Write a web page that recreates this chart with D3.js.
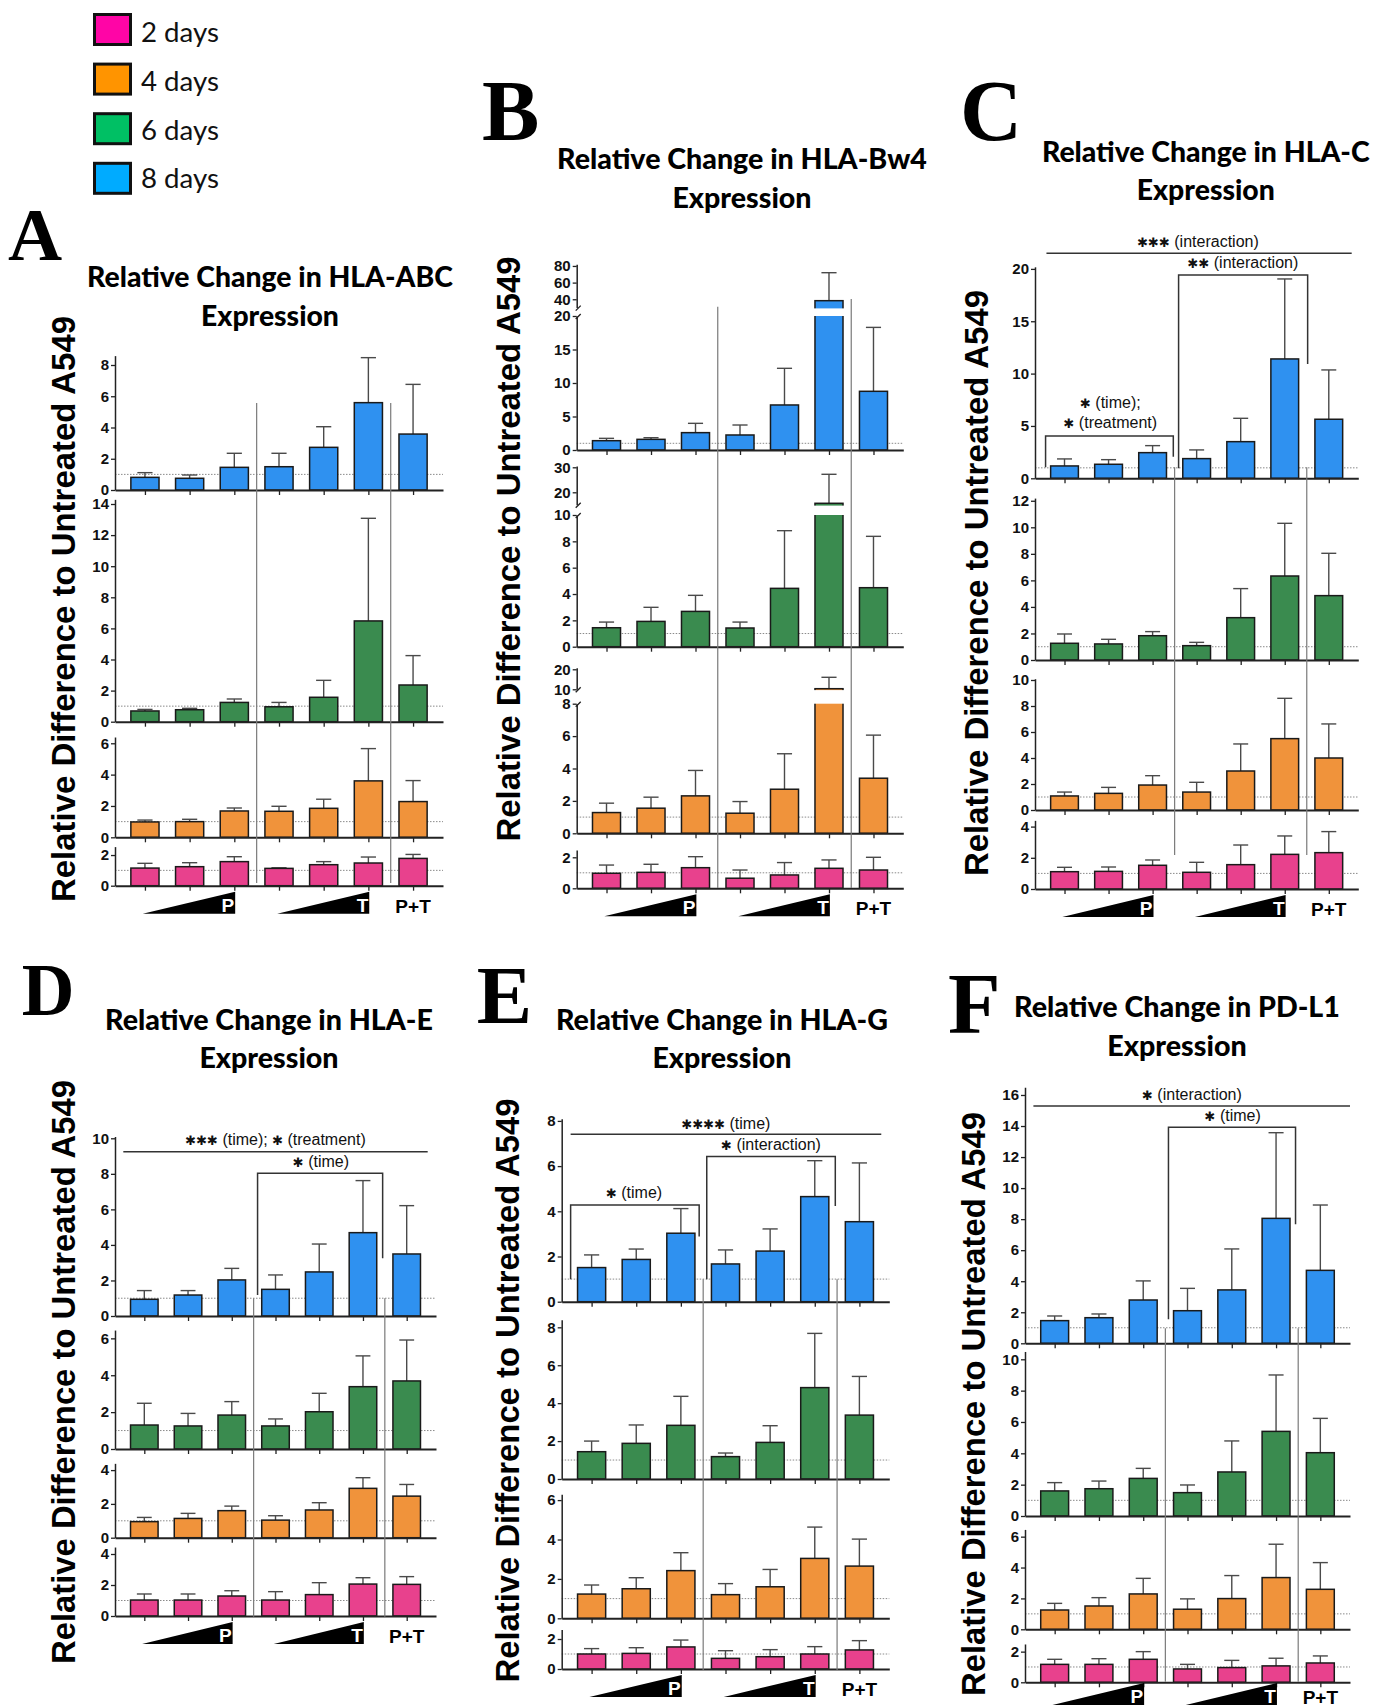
<!DOCTYPE html>
<html>
<head>
<meta charset="utf-8">
<script src="https://cdn.jsdelivr.net/npm/d3@7"></script>
<style>
  body { margin: 0; background: #fff; }
</style>
</head>
<body>
<svg id="fig"></svg>
<script>
// x categories: rising P dose, rising T dose, P+T combination
const conditions = ["P1", "P2", "P3", "T1", "T2", "T3", "P+T"];
const dayLabels = ["2 days", "4 days", "6 days", "8 days"];
const legendColors = ["#ff05a6", "#ff9400", "#00c064", "#00abff"];
const barColors = { 2: "#e8418d", 4: "#f0933b", 6: "#3a8b4f", 8: "#2f91f0" };
const yLabel = "Relative Difference to Untreated A549";

// A - HLA-ABC (mean, SD)
const abcMean8 = [0.81, 0.75, 1.45, 1.49, 2.73, 5.59, 3.58];
const abcSd8   = [0.30, 0.21, 0.90, 0.86, 1.32, 2.88, 3.18];
const abcMean6 = [0.69, 0.77, 1.24, 0.96, 1.57, 6.48, 2.36];
const abcSd6   = [0.10, 0.09, 0.22, 0.28, 1.09, 6.60, 1.89];
const abcMean4 = [0.98, 1.00, 1.68, 1.66, 1.85, 3.60, 2.28];
const abcSd4   = [0.12, 0.15, 0.19, 0.32, 0.58, 2.06, 1.34];
const abcMean2 = [1.15, 1.24, 1.57, 1.13, 1.37, 1.48, 1.78];
const abcSd2   = [0.31, 0.26, 0.32, 0.04, 0.20, 0.39, 0.26];
const abcTicks = [[0, 2, 4, 6, 8], [0, 2, 4, 6, 8, 10, 12, 14], [0, 2, 4, 6], [0, 2]];

// B - HLA-Bw4
const bw4Mean8 = [1.39, 1.59, 2.59, 2.24, 6.72, 38.3, 8.76];
const bw4Sd8   = [0.35, 0.25, 1.39, 1.49, 5.47, 33.6, 9.54];
const bw4Mean6 = [1.44, 1.92, 2.68, 1.42, 4.43, 15.6, 4.48];
const bw4Sd6   = [0.43, 1.07, 1.22, 0.45, 4.38, 11.6, 3.90];
const bw4Mean4 = [1.28, 1.55, 2.31, 1.24, 2.72, 10.3, 3.40];
const bw4Sd4   = [0.58, 0.68, 1.57, 0.72, 2.19, 5.70, 2.66];
const bw4Mean2 = [0.97, 1.03, 1.33, 0.65, 0.86, 1.29, 1.18];
const bw4Sd2   = [0.53, 0.52, 0.71, 0.53, 0.80, 0.54, 0.82];
const bw4Ticks = [[0, 5, 10, 15, 20], [0, 2, 4, 6, 8, 10], [0, 2, 4, 6, 8], [0, 2]];
const bw4TicksUpper = [[40, 60, 80], [20, 30], [10, 20]];

// C - HLA-C
const cMean8 = [1.18, 1.34, 2.45, 1.88, 3.50, 11.40, 5.64];
const cSd8   = [0.67, 0.44, 0.67, 0.83, 2.23, 7.64, 4.71];
const cMean6 = [1.26, 1.21, 1.83, 1.08, 3.19, 6.33, 4.85];
const cSd6   = [0.70, 0.35, 0.31, 0.25, 2.19, 3.97, 3.19];
const cMean4 = [1.08, 1.28, 1.92, 1.38, 3.00, 5.49, 4.00];
const cSd4   = [0.30, 0.46, 0.72, 0.75, 2.08, 3.10, 2.62];
const cMean2 = [1.11, 1.13, 1.52, 1.07, 1.56, 2.22, 2.33];
const cSd2   = [0.28, 0.28, 0.34, 0.64, 1.26, 1.18, 1.35];
const cTicks = [[0, 5, 10, 15, 20], [0, 2, 4, 6, 8, 10, 12], [0, 2, 4, 6, 8, 10], [0, 2, 4]];

// D - HLA-E
const eMean8 = [0.94, 1.18, 2.03, 1.50, 2.48, 4.69, 3.49];
const eSd8   = [0.49, 0.25, 0.65, 0.81, 1.57, 2.93, 2.72];
const eMean6 = [1.30, 1.25, 1.84, 1.25, 2.02, 3.38, 3.69];
const eSd6   = [1.18, 0.68, 0.73, 0.38, 1.00, 1.67, 2.22];
const eMean4 = [0.95, 1.14, 1.60, 1.04, 1.64, 2.92, 2.46];
const eSd4   = [0.25, 0.30, 0.27, 0.26, 0.43, 0.63, 0.69];
const eMean2 = [1.03, 1.03, 1.29, 1.03, 1.38, 2.06, 2.04];
const eSd2   = [0.39, 0.39, 0.34, 0.54, 0.77, 0.41, 0.50];
const eTicks = [[0, 2, 4, 6, 8, 10], [0, 2, 4, 6], [0, 2, 4], [0, 2, 4]];

// E - HLA-G
const gMean8 = [1.51, 1.87, 3.03, 1.67, 2.24, 4.65, 3.54];
const gSd8   = [0.56, 0.46, 1.09, 0.62, 0.98, 1.59, 2.60];
const gMean6 = [1.44, 1.88, 2.83, 1.18, 1.93, 4.82, 3.37];
const gSd6   = [0.56, 0.97, 1.53, 0.19, 0.88, 2.86, 2.04];
const gMean4 = [1.23, 1.50, 2.42, 1.20, 1.60, 3.04, 2.65];
const gSd4   = [0.46, 0.56, 0.91, 0.56, 0.88, 1.59, 1.37];
const gMean2 = [1.00, 1.04, 1.47, 0.71, 0.82, 1.00, 1.27];
const gSd2   = [0.36, 0.38, 0.46, 0.51, 0.47, 0.49, 0.62];
const gTicks = [[0, 2, 4, 6, 8], [0, 2, 4, 6, 8], [0, 2, 4, 6], [0, 2]];

// F - PD-L1
const pdMean8 = [1.46, 1.65, 2.79, 2.10, 3.44, 8.05, 4.70];
const pdSd8   = [0.30, 0.24, 1.23, 1.44, 2.64, 5.52, 4.21];
const pdMean6 = [1.60, 1.74, 2.40, 1.49, 2.81, 5.40, 4.04];
const pdSd6   = [0.53, 0.49, 0.64, 0.49, 1.98, 3.60, 2.19];
const pdMean4 = [1.25, 1.51, 2.29, 1.30, 1.99, 3.35, 2.59];
const pdSd4   = [0.43, 0.54, 1.01, 0.67, 1.49, 2.16, 1.73];
const pdMean2 = [1.17, 1.17, 1.50, 0.87, 0.96, 1.07, 1.26];
const pdSd2   = [0.33, 0.37, 0.50, 0.30, 0.47, 0.50, 0.46];
const pdTicks = [[0, 2, 4, 6, 8, 10, 12, 14, 16], [0, 2, 4, 6, 8, 10], [0, 2, 4, 6], [0, 2]];

const W = 1388, H = 1708;
const SANS = "'Liberation Sans', Arial, sans-serif";
const TITLE = "Lato, 'Open Sans', sans-serif";
const SERIF = "'Liberation Serif', 'Times New Roman', serif";

// layout for each panel; rows run top to bottom as 8, 6, 4, 2 days
function rows(means, sds, ticks, geo) {
    const days = [8, 6, 4, 2];
    return geo.map((r, k) => Object.assign({ day: days[k], mean: means[k], sd: sds[k], ticks: ticks[k] }, r));
}

const panels = [
    {
        id: "A", letter: [8, 260, 75], title: "Relative Change in HLA-ABC", tx: 270, ty: [287, 326], tw: 366,
        yl: [75, 609, 586], xl: 115, xr: 443, sepTop: [403, 403], sepBot: 883,
        rows: rows([abcMean8, abcMean6, abcMean4, abcMean2], [abcSd8, abcSd6, abcSd4, abcSd2], abcTicks, [
            { y0: 490, ppu: 15.625, max: 8.6 }, { y0: 721.7, ppu: 15.55, max: 14.3 },
            { y0: 837.3, ppu: 15.67, max: 6.4 }, { y0: 885.7, ppu: 15.33, max: 2.55 }]),
        notes: []
    },
    {
        id: "B", letter: [482, 140, 86], title: "Relative Change in HLA-Bw4", tx: 742, ty: [169.3, 208.3], tw: 370,
        yl: [519.5, 549, 585], xl: 576.7, xr: 903.3, sepTop: [306.7, 299], sepBot: 888,
        rows: rows([bw4Mean8, bw4Mean6, bw4Mean4, bw4Mean2], [bw4Sd8, bw4Sd6, bw4Sd4, bw4Sd2], bw4Ticks, [
            { y0: 450, ppu: 6.7, max: 20, up: { lo: 30, hi: 82, y: 307.6, ppu: 0.833, ticks: bw4TicksUpper[0] } },
            { y0: 646.7, ppu: 13.17, max: 10, up: { lo: 15, hi: 30.5, y: 504.8, ppu: 2.5, ticks: bw4TicksUpper[1] } },
            { y0: 833.3, ppu: 16.2, max: 8, up: { lo: 10, hi: 20.8, y: 689.3, ppu: 2, ticks: bw4TicksUpper[2] } },
            { y0: 888.3, ppu: 15.5, max: 2.47 }]),
        notes: []
    },
    {
        id: "C", letter: [960, 140, 86], title: "Relative Change in HLA-C", tx: 1205.8, ty: [161.7, 200], tw: 328,
        yl: [988, 583, 586], xl: 1035, xr: 1358.3, sepTop: [467.3, 467.3], sepBot: 855,
        rows: rows([cMean8, cMean6, cMean4, cMean2], [cSd8, cSd6, cSd4, cSd2], cTicks, [
            { y0: 478.3, ppu: 10.47, max: 20.2 }, { y0: 660, ppu: 13.27, max: 12.2 },
            { y0: 810, ppu: 13, max: 10.1 }, { y0: 889, ppu: 15.6, max: 4.4 }]),
        notes: [
            { kind: "line", x1: -0.41, x2: 6.52, y: 21.5 },
            { kind: "text", x: 3.03, y: 22.1, text: "*** (interaction)" },
            { kind: "bracket", x1: 2.59, x2: 5.52, y: 19.42, l1: 0.96, l2: 10.92 },
            { kind: "text", x: 4.05, y: 20.06, text: "** (interaction)" },
            { kind: "bracket", x1: -0.43, x2: 2.47, y: 4.04, l1: 1.05, l2: 2.06 },
            { kind: "text", x: 1.04, y: 6.69, text: "* (time);" },
            { kind: "text", x: 1.04, y: 4.78, text: "* (treatment)" }
        ]
    },
    {
        id: "D", letter: [21.7, 1015, 73], title: "Relative Change in HLA-E", tx: 269, ty: [1030, 1068.3], tw: 328,
        yl: [75, 1372, 584], xl: 115, xr: 436, sepTop: [1298.3, 1298.3], sepBot: 1616.7,
        rows: rows([eMean8, eMean6, eMean4, eMean2], [eSd8, eSd6, eSd4, eSd2], eTicks, [
            { y0: 1316, ppu: 17.77, max: 10.1 }, { y0: 1449, ppu: 18.44, max: 6.45 },
            { y0: 1537.7, ppu: 16.9, max: 4.4 }, { y0: 1616, ppu: 15.5, max: 4.45 }]),
        notes: [
            { kind: "line", x1: -0.48, x2: 6.48, y: 9.25 },
            { kind: "text", x: 3.0, y: 9.62, text: "*** (time); * (treatment)" },
            { kind: "bracket", x1: 2.59, x2: 5.45, y: 8.03, l1: 1.18, l2: 3.25 },
            { kind: "text", x: 4.04, y: 8.4, text: "* (time)" }
        ]
    },
    {
        id: "E", letter: [476.7, 1023, 83], title: "Relative Change in HLA-G", tx: 722, ty: [1030, 1068.3], tw: 332,
        yl: [519, 1390.5, 584], xl: 561.7, xr: 889.3, sepTop: [1279.3, 1279.3], sepBot: 1670,
        rows: rows([gMean8, gMean6, gMean4, gMean2], [gSd8, gSd6, gSd4, gSd2], gTicks, [
            { y0: 1301.7, ppu: 22.6, max: 8.1 }, { y0: 1479, ppu: 18.96, max: 8.4 },
            { y0: 1618.3, ppu: 19.7, max: 6.3 }, { y0: 1669, ppu: 15, max: 2.64 }]),
        notes: [
            { kind: "line", x1: -0.47, x2: 6.49, y: 7.41 },
            { kind: "text", x: 3.01, y: 7.63, text: "**** (time)" },
            { kind: "bracket", x1: 2.58, x2: 5.46, y: 6.42, l1: 0.99, l2: 4.23 },
            { kind: "text", x: 4.02, y: 6.71, text: "* (interaction)" },
            { kind: "bracket", x1: -0.47, x2: 2.41, y: 4.28, l1: 0.99, l2: 2.88 },
            { kind: "text", x: 0.95, y: 4.58, text: "* (time)" }
        ]
    },
    {
        id: "F", letter: [948, 1033, 86], title: "Relative Change in PD-L1", tx: 1177, ty: [1016.7, 1056], tw: 326,
        yl: [985, 1404, 584], xl: 1025, xr: 1350, sepTop: [1328.3, 1328.3], sepBot: 1681.7,
        rows: rows([pdMean8, pdMean6, pdMean4, pdMean2], [pdSd8, pdSd6, pdSd4, pdSd2], pdTicks, [
            { y0: 1343.3, ppu: 15.52, max: 16.5 }, { y0: 1516, ppu: 15.67, max: 10.5 },
            { y0: 1629.3, ppu: 15.44, max: 6.47 }, { y0: 1682.3, ppu: 15.33, max: 2.5 }]),
        notes: [
            { kind: "line", x1: -0.48, x2: 6.67, y: 15.29 },
            { kind: "text", x: 3.1, y: 15.68, text: "* (interaction)" },
            { kind: "bracket", x1: 2.57, x2: 5.44, y: 13.92, l1: 1.55, l2: 7.67 },
            { kind: "text", x: 4.02, y: 14.34, text: "* (time)" }
        ]
    }
];

const svg = d3.select("#fig").attr("width", W).attr("height", H);
svg.append("rect").attr("width", W).attr("height", H).attr("fill", "#fff");

// scale font size so the text spans the wanted width
function fitText(sel, width) {
    const fs = parseFloat(sel.attr("font-size"));
    const nf = fs * width / sel.node().getComputedTextLength();
    sel.attr("font-size", nf);
    return nf;
}

function styleAxis(a, width) {
    a.attr("font-family", SANS).attr("font-size", 15).attr("font-weight", "bold");
    a.selectAll("path.domain").attr("stroke", "#222").attr("stroke-width", width);
    a.selectAll(".tick line").attr("stroke", "#222").attr("stroke-width", 1.3);
    a.selectAll(".tick text").attr("fill", "#111");
}

// legend
const legend = svg.append("g");
dayLabels.forEach((d, i) => {
    legend.append("rect")
        .attr("x", 94.5).attr("y", 14.5 + i * 49.6).attr("width", 36).attr("height", 30)
        .attr("fill", legendColors[i]).attr("stroke", "#111").attr("stroke-width", 3);
    const t = legend.append("text")
        .attr("x", 141).attr("y", 41.7 + i * 48.9)
        .attr("font-family", TITLE).attr("font-size", 28).attr("fill", "#111")
        .text(d);
    fitText(t, 78);
});

panels.forEach(drawPanel);

function drawPanel(p) {
    const g = svg.append("g");

    g.append("text")
        .attr("x", p.letter[0]).attr("y", p.letter[1])
        .attr("font-family", SERIF).attr("font-weight", "bold").attr("font-size", p.letter[2])
        .text(p.id);

    const t1 = g.append("text")
        .attr("x", p.tx).attr("y", p.ty[0]).attr("text-anchor", "middle")
        .attr("font-family", TITLE).attr("font-weight", 900).attr("font-size", 28)
        .text(p.title);
    const fs = fitText(t1, p.tw);
    g.append("text")
        .attr("x", p.tx).attr("y", p.ty[1]).attr("text-anchor", "middle")
        .attr("font-family", TITLE).attr("font-weight", 900).attr("font-size", fs)
        .text("Expression");

    g.append("text")
        .attr("transform", `translate(${p.yl[0]},${p.yl[1]}) rotate(-90)`)
        .attr("text-anchor", "middle")
        .attr("font-family", SANS).attr("font-weight", "bold").attr("font-size", 33)
        .attr("textLength", p.yl[2]).attr("lengthAdjust", "spacingAndGlyphs")
        .text(yLabel);

    const x = d3.scalePoint().domain(conditions).range([p.xl, p.xr]).padding(0.67);
    const step = x.step();
    const bw = step * 0.63;
    const xAt = i => x(conditions[0]) + i * step;

    p.rows.forEach(r => drawRow(g, p, r, x, bw, step));

    // separators between P, T and P+T groups
    [2.5, 5.5].forEach((i, k) => {
        g.append("line")
            .attr("x1", xAt(i)).attr("x2", xAt(i))
            .attr("y1", p.sepTop[k]).attr("y2", p.sepBot)
            .attr("stroke", "#7a7a7a").attr("stroke-width", 1.2);
    });

    // dose ramps under the x axis (kept inside the page at the bottom)
    const last = p.rows[p.rows.length - 1];
    const bot = Math.min(last.y0 + 28, H - 3), top = bot - 22;
    [[-0.05, 2.02, "P"], [2.96, 5.02, "T"]].forEach(([a, b, lab]) => {
        g.append("path")
            .attr("d", `M${xAt(a)},${bot}L${xAt(b)},${bot}L${xAt(b)},${top}Z`)
            .attr("fill", "#000");
        g.append("text")
            .attr("x", xAt(b) - 1).attr("y", bot - 2).attr("text-anchor", "end")
            .attr("font-family", SANS).attr("font-weight", "bold").attr("font-size", 19)
            .attr("fill", "#fff").text(lab);
    });
    g.append("text")
        .attr("x", x("P+T")).attr("y", bot - 1).attr("text-anchor", "middle")
        .attr("font-family", SANS).attr("font-weight", "bold").attr("font-size", 19)
        .attr("fill", "#000").text("P+T");

    // significance annotations, placed in the 8-day row's units
    const r0 = p.rows[0];
    const yB = d3.scaleLinear().domain([0, 1]).range([r0.y0, r0.y0 - r0.ppu]);
    p.notes.forEach(n => {
        if (n.kind === "line") {
            g.append("line")
                .attr("x1", xAt(n.x1)).attr("x2", xAt(n.x2)).attr("y1", yB(n.y)).attr("y2", yB(n.y))
                .attr("stroke", "#333").attr("stroke-width", 1.5);
        } else if (n.kind === "bracket") {
            g.append("path")
                .attr("d", `M${xAt(n.x1)},${yB(n.l1)}V${yB(n.y)}H${xAt(n.x2)}V${yB(n.l2)}`)
                .attr("fill", "none").attr("stroke", "#333").attr("stroke-width", 1.5);
        } else {
            const t = g.append("text")
                .attr("x", xAt(n.x)).attr("y", yB(n.y)).attr("text-anchor", "middle").attr("fill", "#111");
            n.text.split(/(\*+)/).filter(s => s.length).forEach(s => {
                const star = /^\*+$/.test(s);
                t.append("tspan")
                    .attr("font-family", star ? "'DejaVu Sans', sans-serif" : SANS)
                    .attr("font-size", star ? 13 : 16)
                    .text(star ? "\u2731".repeat(s.length) : s);
            });
        }
    });
}

function drawRow(g, p, r, x, bw, step) {
    const lo = d3.scaleLinear().domain([0, r.max]).range([r.y0, r.y0 - r.max * r.ppu]);
    const hi = r.up
        ? d3.scaleLinear().domain([r.up.lo, r.up.hi]).range([r.up.y, r.up.y - (r.up.hi - r.up.lo) * r.up.ppu])
        : null;
    const y = v => (hi && v > r.max) ? hi(Math.max(v, r.up.lo)) : lo(v);
    const cx = (d, i) => x(conditions[i]);
    const fmt = d3.format("d");

    // dotted baseline at 1 (untreated)
    g.append("line")
        .attr("x1", p.xl).attr("x2", p.xr).attr("y1", lo(1)).attr("y2", lo(1))
        .attr("stroke", "#8a8a8a").attr("stroke-width", 1).attr("stroke-dasharray", "1.5,1.5");

    // error bars (upper whisker only)
    const eb = g.append("g").attr("stroke", "#4a4a4a").attr("stroke-width", 1.4);
    eb.selectAll("line.v").data(r.mean).join("line").attr("class", "v")
        .attr("x1", cx).attr("x2", cx)
        .attr("y1", d => y(d)).attr("y2", (d, i) => y(d + r.sd[i]));
    eb.selectAll("line.c").data(r.mean).join("line").attr("class", "c")
        .attr("x1", (d, i) => cx(d, i) - step * 0.17).attr("x2", (d, i) => cx(d, i) + step * 0.17)
        .attr("y1", (d, i) => y(d + r.sd[i])).attr("y2", (d, i) => y(d + r.sd[i]));

    g.append("g").selectAll("rect").data(r.mean).join("rect")
        .attr("x", (d, i) => cx(d, i) - bw / 2).attr("width", bw)
        .attr("y", d => y(d)).attr("height", d => r.y0 - y(d))
        .attr("fill", barColors[r.day]).attr("stroke", "#1a1a1a").attr("stroke-width", 1.5);

    const ya = g.append("g").attr("transform", `translate(${p.xl},0)`)
        .call(d3.axisLeft(lo).tickValues(r.ticks).tickFormat(fmt).tickSize(4).tickSizeOuter(0).tickPadding(2));
    styleAxis(ya, 1.5);

    if (hi) {
        // white gap across bars that run through the axis break
        const broken = r.mean.map((d, i) => ({ d, i })).filter(o => o.d > r.max);
        g.append("g").selectAll("rect").data(broken).join("rect")
            .attr("x", o => cx(o.d, o.i) - bw / 2 - 2).attr("width", bw + 4)
            .attr("y", hi(r.up.lo) + 0.8).attr("height", lo(r.max) - hi(r.up.lo) - 0.8)
            .attr("fill", "#fff");
        const ua = g.append("g").attr("transform", `translate(${p.xl},0)`)
            .call(d3.axisLeft(hi).tickValues(r.up.ticks).tickFormat(fmt).tickSize(4).tickSizeOuter(0).tickPadding(2));
        styleAxis(ua, 1.5);
        // break marks
        [lo(r.max), hi(r.up.lo)].forEach(yy => {
            g.append("path")
                .attr("d", `M${p.xl - 1},${yy + 3}L${p.xl + 4},${yy - 2}`)
                .attr("stroke", "#222").attr("stroke-width", 1.3).attr("fill", "none");
        });
    }

    const xa = g.append("g").attr("transform", `translate(0,${r.y0})`)
        .call(d3.axisBottom(x).tickSize(5).tickSizeOuter(0).tickFormat(""));
    styleAxis(xa, 2);
}
</script>
</body>
</html>
